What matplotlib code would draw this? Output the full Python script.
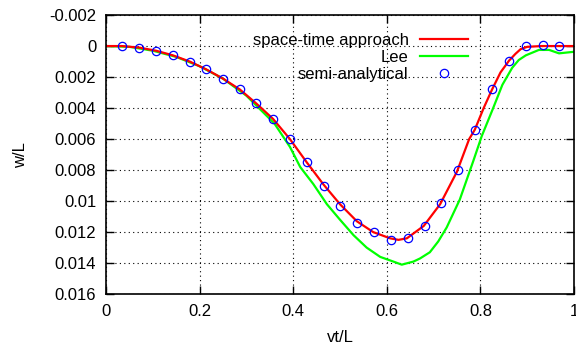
import matplotlib
matplotlib.use("Agg")
import matplotlib.pyplot as plt

plt.rcParams['font.family'] = ['Liberation Sans', 'DejaVu Sans']

# space-time approach (red line)
red_x = [0.0, 0.034, 0.071, 0.107, 0.143, 0.179, 0.214, 0.25, 0.286, 0.321,
         0.357, 0.393, 0.429, 0.464, 0.5, 0.536, 0.571, 0.607, 0.625, 0.643,
         0.679, 0.714, 0.75, 0.776, 0.788, 0.807, 0.825, 0.843, 0.861, 0.875,
         0.886, 0.9, 0.93, 1.0]
red_y = [0.0, 0.0, 0.0001, 0.0003, 0.0006, 0.001, 0.0015, 0.0021, 0.0028, 0.0037,
         0.0047, 0.006, 0.0075, 0.0089, 0.0102, 0.0113, 0.012, 0.0124, 0.0125, 0.0124,
         0.0116, 0.0102, 0.0081, 0.006, 0.0054, 0.004, 0.0028, 0.0017, 0.00095, 0.0005,
         0.0002, 0.00005, 0.0, 0.0]

# Lee (green line)
lee_x = [0.0, 0.05, 0.1, 0.15, 0.2, 0.25, 0.3, 0.33, 0.36, 0.393, 0.415, 0.443,
         0.472, 0.5, 0.529, 0.557, 0.586, 0.614, 0.632, 0.657, 0.671, 0.692, 0.71,
         0.728, 0.756, 0.785, 0.803, 0.826, 0.847, 0.868, 0.882, 0.897, 0.925, 0.947,
         0.968, 1.0]
lee_y = [0.0, 0.00005, 0.0003, 0.0007, 0.0013, 0.0021, 0.0032, 0.0041, 0.005, 0.0065,
         0.0078, 0.0089, 0.0102, 0.0112, 0.0122, 0.013, 0.0136, 0.0139, 0.0141, 0.0139,
         0.0137, 0.0133, 0.0126, 0.0117, 0.0099, 0.0074, 0.0058, 0.0041, 0.0025,
         0.0014, 0.0009, 0.0006, 0.00025, 0.00025, 0.00047, 0.00037]

# semi-analytical (circles)
semi_x = [0.034, 0.071, 0.107, 0.143, 0.179, 0.214, 0.25, 0.286, 0.321, 0.357,
          0.393, 0.429, 0.465, 0.501, 0.537, 0.573, 0.609, 0.645, 0.681, 0.716,
          0.753, 0.788, 0.825, 0.861, 0.897, 0.933, 0.968]
semi_y = [0.0, 0.0001, 0.0003, 0.0006, 0.001, 0.0015, 0.0021, 0.0028, 0.0037, 0.0047,
          0.006, 0.0075, 0.009, 0.0103, 0.0114, 0.012, 0.0125, 0.0124, 0.0116, 0.0101,
          0.008, 0.0054, 0.0028, 0.00095, 0.0, -0.00005, 0.0]

x_ticks = [0, 0.2, 0.4, 0.6, 0.8, 1]
x_labels = ['0', '0.2', '0.4', '0.6', '0.8', '1']
y_ticks = [-0.002, 0, 0.002, 0.004, 0.006, 0.008, 0.01, 0.012, 0.014, 0.016]
y_labels = ['-0.002', '0', '0.002', '0.004', '0.006', '0.008', '0.01', '0.012', '0.014', '0.016']

fig = plt.figure(figsize=(5.76, 3.42), dpi=100)
ax = fig.add_axes([0.184, 0.140, 0.8125, 0.816])

l_lee, = ax.plot(lee_x, lee_y, color='#00ff00', lw=1.6, label='Lee')
l_red, = ax.plot(red_x, red_y, color='#ff0000', lw=1.6, label='space-time approach')
l_semi, = ax.plot(semi_x, semi_y, ls='none', marker='o', ms=6, mfc='none',
                  mec='#0000ff', mew=0.9, label='semi-analytical')

ax.set_xlim(0, 1)
ax.set_ylim(0.016, -0.002)
ax.set_xticks(x_ticks)
ax.set_xticklabels(x_labels)
ax.set_yticks(y_ticks)
ax.set_yticklabels(y_labels)
ax.tick_params(direction='in', length=6, width=1, top=True, right=True,
               labelsize=12, pad=7)
ax.grid(True, ls=(0, (1, 3)), color='black', lw=0.8)
for s in ax.spines.values():
    s.set_linewidth(1.2)

ax.set_xlabel('vt/L', fontsize=12, labelpad=8)
ax.set_ylabel('w/L', fontsize=12, labelpad=15)

leg = ax.legend([l_red, l_lee, l_semi],
                ['space-time approach', 'Lee', 'semi-analytical'],
                loc='upper right', bbox_to_anchor=(0.7735, 0.935),
                markerfirst=False, frameon=False, fontsize=12,
                handlelength=2.9, handletextpad=0.66, labelspacing=0.1,
                borderpad=0, borderaxespad=0)

fig.savefig('out.png', dpi=100)
